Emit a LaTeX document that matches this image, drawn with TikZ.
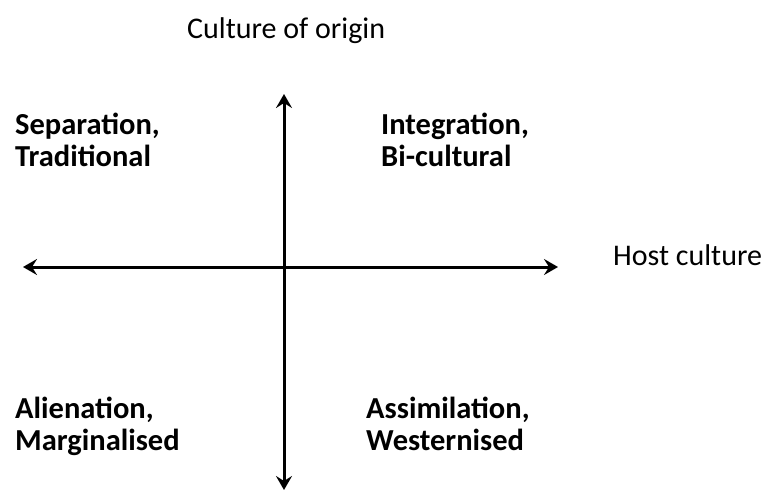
\documentclass[tikz,border=0pt]{standalone}
\usepackage{fontspec}
\setmainfont{Carlito}
\usetikzlibrary{arrows.meta}
\tikzset{
  axis/.style={line width=3pt, {Stealth[length=14pt,width=16pt,inset=5pt]}-{Stealth[length=14pt,width=16pt,inset=5pt]}},
  quad/.style={anchor=base west, inner sep=0pt, align=left, font=\fontsize{30.5}{32}\selectfont\bfseries},
  lbl/.style={anchor=base west, inner sep=0pt, font=\fontsize{30}{32}\selectfont}
}
\begin{document}
\begin{tikzpicture}[x=1pt,y=1pt]
\useasboundingbox (0,0) rectangle (767,491);
\coordinate (vtop) at (284,397);
\coordinate (vbot) at (284,1);
\coordinate (hleft) at (23,224);
\coordinate (hright) at (558,224);
\draw[axis] (vbot) -- (vtop);
\draw[axis] (hleft) -- (hright);
\node[lbl] (origin) at (187,452) {Culture of origin};
\node[lbl] (host) at (613,226) {Host culture};
\node[quad] (sep) at (15,325) {Separation,\\Traditional};
\node[quad] (int) at (381,325) {Integration,\\Bi-cultural};
\node[quad] (ali) at (15,41) {Alienation,\\Marginalised};
\node[quad] (ass) at (366,41) {Assimilation,\\Westernised};
\end{tikzpicture}
\end{document}
